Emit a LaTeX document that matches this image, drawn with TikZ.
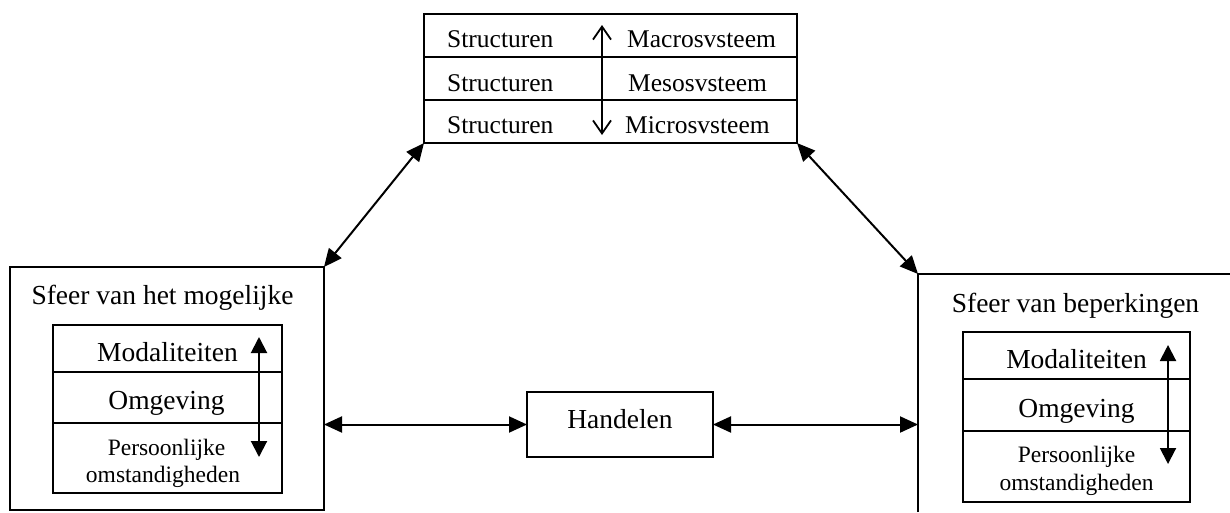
\documentclass[tikz,border=0pt]{standalone}
\usepackage{fontspec}
\setmainfont{Liberation Serif}
\usetikzlibrary{arrows.meta}
\tikzset{
  box/.style={draw, line width=2pt, outer sep=0pt, inner sep=0pt},
  frame/.style={outer sep=0pt, inner sep=0pt},
  divider/.style={line width=2pt},
  conn/.style={line width=2pt, {Triangle[length=18pt,width=16pt]}-{Triangle[length=18pt,width=16pt]}},
  inarrow/.style={line width=2pt, {Triangle[length=16pt,width=16pt]}-{Triangle[length=16pt,width=16pt]}},
  openarrow/.style={line width=1.8pt, {Straight Barb[length=13pt,width=18pt]}-{Straight Barb[length=13pt,width=18pt]}},
  toptxt/.style={inner sep=0pt, anchor=base west, font=\fontsize{25.5}{30}\selectfont},
  bigtxt/.style={inner sep=0pt, anchor=base, font=\fontsize{27.5}{32}\selectfont},
  smalltxt/.style={inner sep=0pt, anchor=base, font=\fontsize{23.5}{28}\selectfont},
}
\begin{document}
\begin{tikzpicture}[x=1pt,y=-1pt]
\useasboundingbox (0,0) rectangle (1230,512);

% top box
\node[box, minimum width=373pt, minimum height=129pt] (top) at (610.5,78.5) {};
\coordinate (t1) at (0,57);
\coordinate (t2) at (0,100);
\draw[divider] (top.west |- t1) -- (top.east |- t1);
\draw[divider] (top.west |- t2) -- (top.east |- t2);
\node[toptxt] (s1) at (447,47) {Structuren};
\node[toptxt] (s2) at (447,91) {Structuren};
\node[toptxt] (s3) at (447,133) {Structuren};
\node[toptxt] (m1) at (627,47) {Macrosvsteem};
\node[toptxt] (m2) at (628,91) {Mesosvsteem};
\node[toptxt] (m3) at (625,133) {Microsvsteem};
\coordinate (ta) at (602,25);
\coordinate (tb) at (602,135);
\draw[openarrow] (ta) -- (tb);

% left box
\node[box, minimum width=314pt, minimum height=243pt] (lbox) at (167,388.5) {};
\node[bigtxt] (ltitle) at (162.5,304) {Sfeer van het mogelijke};
\node[box, minimum width=229pt, minimum height=168pt] (linner) at (167.5,409) {};
\coordinate (l1) at (0,372);
\coordinate (l2) at (0,423);
\draw[divider] (linner.west |- l1) -- (linner.east |- l1);
\draw[divider] (linner.west |- l2) -- (linner.east |- l2);
\node[bigtxt] (lmod) at (167.5,361) {Modaliteiten};
\node[bigtxt] (lomg) at (166.5,409) {Omgeving};
\node[smalltxt] (lper) at (166.5,455) {Persoonlijke};
\node[smalltxt] (loms) at (163,482) {omstandigheden};
\coordinate (la) at (259,337);
\coordinate (lb) at (259,457);
\draw[inarrow] (la) -- (lb);

% right box (open to the right and bottom)
\node[frame, minimum width=312pt, minimum height=238pt] (rbox) at (1074,393) {};
\draw[line width=2pt] (rbox.south west) -- (rbox.north west) -- (rbox.north east);
\node[bigtxt] (rtitle) at (1075.5,312) {Sfeer van beperkingen};
\node[box, minimum width=227pt, minimum height=170pt] (rinner) at (1076.5,417) {};
\coordinate (r1) at (0,379);
\coordinate (r2) at (0,431);
\draw[divider] (rinner.west |- r1) -- (rinner.east |- r1);
\draw[divider] (rinner.west |- r2) -- (rinner.east |- r2);
\node[bigtxt] (rmod) at (1076.5,368) {Modaliteiten};
\node[bigtxt] (romg) at (1076.5,417) {Omgeving};
\node[smalltxt] (rper) at (1076.5,462) {Persoonlijke};
\node[smalltxt] (roms) at (1076.5,490) {omstandigheden};
\coordinate (ra) at (1168,345);
\coordinate (rb) at (1168,464);
\draw[inarrow] (ra) -- (rb);

% Handelen
\node[box, minimum width=186pt, minimum height=65pt] (hand) at (620,424.5) {};
\node[bigtxt] (htxt) at (620,428) {Handelen};

% connectors
\draw[conn] (top.south west) -- (lbox.north east);
\draw[conn] (top.south east) -- (rbox.north west);
\draw[conn] (lbox.east |- hand.west) -- (hand.west);
\draw[conn] (hand.east) -- (rbox.west |- hand.east);
\end{tikzpicture}
\end{document}
